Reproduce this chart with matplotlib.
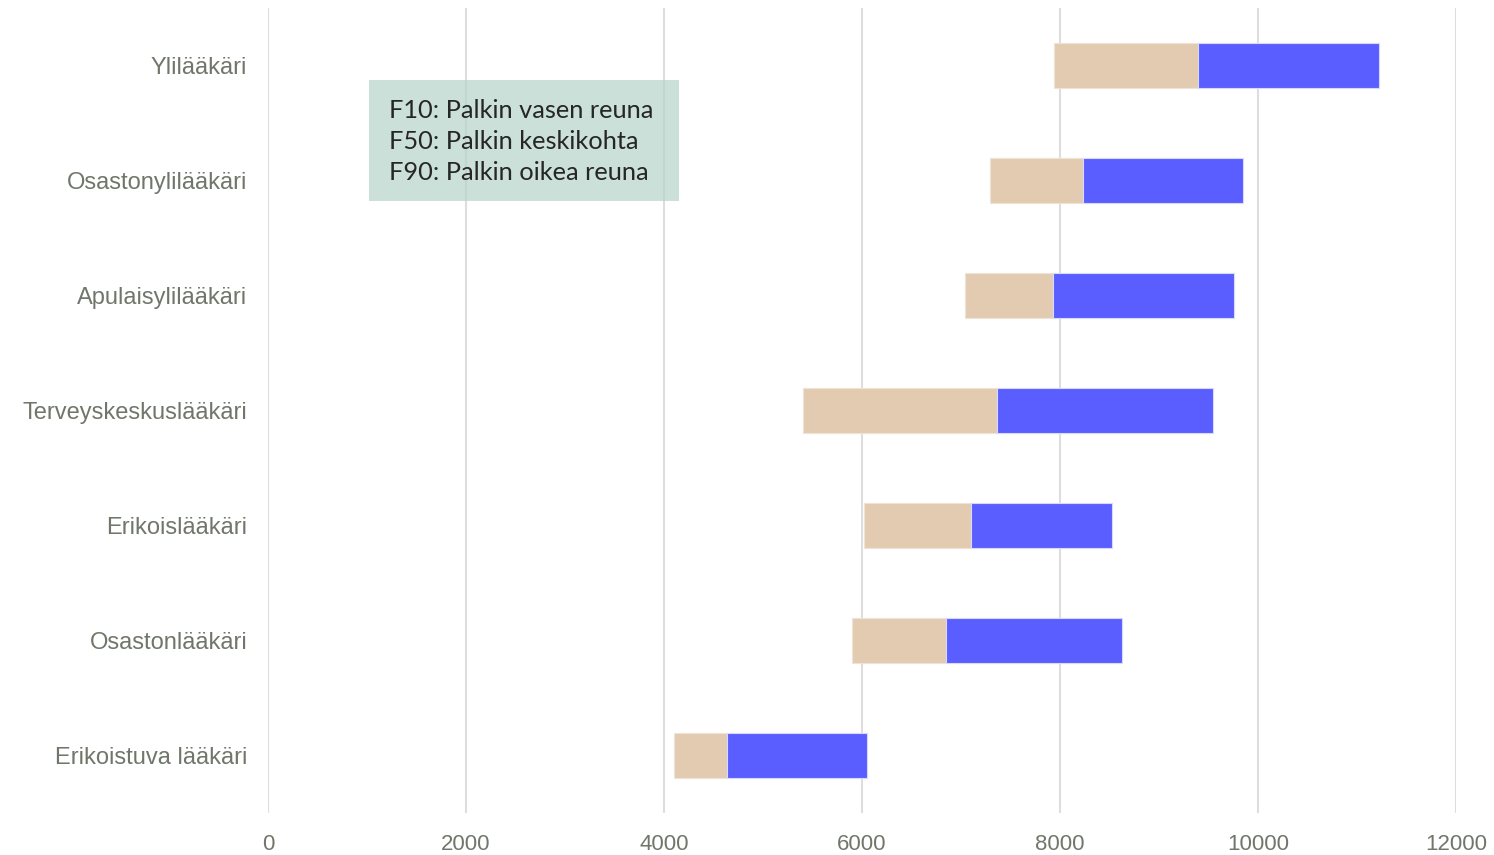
import matplotlib.pyplot as plt
from matplotlib.patches import Rectangle

categories = ["Ylilääkäri", "Osastonylilääkäri", "Apulaisylilääkäri",
              "Terveyskeskuslääkäri", "Erikoislääkäri", "Osastonlääkäri",
              "Erikoistuva lääkäri"]
f10 = [7940, 7290, 7040, 5400, 6020, 5900, 4100]
f50 = [9395, 8230, 7930, 7365, 7100, 6850, 4635]
f90 = [11220, 9850, 9760, 9545, 8525, 8625, 6050]
xticks = [0, 2000, 4000, 6000, 8000, 10000, 12000]
legend_lines = ["F10: Palkin vasen reuna", "F50: Palkin keskikohta", "F90: Palkin oikea reuna"]

tan = "#E2CBB0"
blue = "#5A5EFF"
label_col = "#70776A"

fig = plt.figure(figsize=(14.94, 8.55), dpi=100)
ax = fig.add_axes([268 / 1494, 1 - 813 / 855, (1456 - 268) / 1494, 805 / 855])

y = list(range(len(categories)))
h = 0.39
ax.barh(y, [m - l for m, l in zip(f50, f10)], left=f10, height=h, color=tan,
        edgecolor="#EEE3D6", linewidth=0.8, zorder=3)
ax.barh(y, [r - m for r, m in zip(f90, f50)], left=f50, height=h, color=blue,
        edgecolor="#D8D9FF", linewidth=0.8, zorder=3)

ax.set_xlim(0, 12000)
ax.set_ylim(len(categories) - 0.5, -0.5)
ax.set_xticks(xticks)
ax.set_xticklabels([str(t) for t in xticks])
ax.set_yticks(y)
ax.set_yticklabels(categories)
for lab in ax.get_xticklabels():
    lab.set_fontfamily("Liberation Sans")
    lab.set_fontsize(16)
    lab.set_color(label_col)
for lab in ax.get_yticklabels():
    lab.set_fontfamily("Liberation Sans")
    lab.set_fontsize(17)
    lab.set_color(label_col)
ax.tick_params(axis="both", length=0)
ax.tick_params(axis="x", pad=15)
ax.tick_params(axis="y", pad=15)
for s in ax.spines.values():
    s.set_visible(False)
ax.grid(axis="x", color="#DEDEDE", linewidth=1.5, zorder=0)
ax.set_axisbelow(True)

# selitelaatikko
ax.add_patch(Rectangle((1020, 0.13), 3130, 1.05, facecolor="#B5D3CA", alpha=0.7,
                       edgecolor="none", zorder=4))
ax.text(1220, 0.665, "\n".join(legend_lines), fontsize=18.3, family="Lato",
        color="#262626", va="center", ha="left", linespacing=1.42, zorder=5)

fig.savefig("out.png", dpi=100)
